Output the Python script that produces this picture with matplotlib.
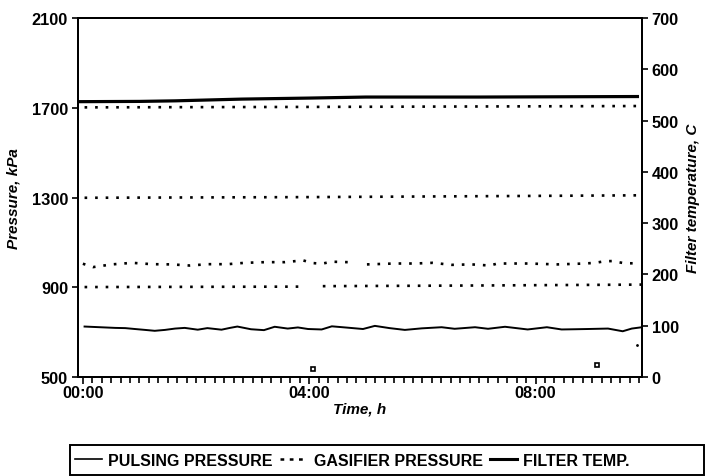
import matplotlib
matplotlib.use("Agg")
import matplotlib.pyplot as plt
import numpy as np
from matplotlib.lines import Line2D
from matplotlib.patches import Rectangle

plt.rcParams['font.family'] = ['Liberation Sans', 'DejaVu Sans']

# pulsing pressure, kPa (thin solid)
pulse_t = [0.03, 0.3, 0.57, 0.75, 0.92, 1.1, 1.27, 1.45, 1.63, 1.8, 2.03, 2.2, 2.45, 2.6, 2.73,
           2.97, 3.2, 3.39, 3.62, 3.8, 3.98, 4.22, 4.4, 4.68, 4.95, 5.16, 5.42, 5.69, 5.99,
           6.34, 6.57, 6.93, 7.16, 7.46, 7.86, 8.2, 8.46, 8.7, 8.92, 9.28, 9.54, 9.7, 9.88]
pulse_p = [725, 722, 719, 718, 714, 710, 706, 710, 716, 719, 711, 718, 711, 719, 725,
           713, 709, 724, 716, 721, 714, 712, 726, 720, 714, 728, 718, 710, 717,
           722, 715, 722, 715, 724, 712, 722, 712, 713, 714, 716, 704, 716, 722]

# gasifier pressure, kPa (dotted, gap near 04:45-05:00)
gas_t = [0.0, 0.18, 0.51, 0.87, 1.22, 1.57, 1.89, 2.21, 2.56, 2.86, 3.22, 3.57, 3.89, 4.06,
         4.22, 4.4, 4.68, 4.85, 5.02, 5.51, 5.87, 6.18, 6.52, 6.87, 7.19, 7.33, 7.86, 8.39,
         8.87, 9.05, 9.22, 9.36, 9.57, 9.72]
gas_p = [1005, 990, 1002, 1009, 1003, 1002, 997, 1003, 1003, 1009, 1012, 1012, 1020, 1008,
         1005, 1014, 1012, np.nan, 1002, 1006, 1006, 1009, 1000, 1002, 997, 1006, 1006, 1002,
         1006, 1009, 1016, 1017, 1007, 1007]

# other dotted pressure traces
low_t = [0.03, 2.0, 3.92, 4.08, 4.24, 7.0, 9.88]
low_p = [901, 902, 903, np.nan, 905, 908, 912]
mid_t = [0.03, 4.0, 7.0, 9.88]
mid_p = [1299, 1302, 1306, 1310]
high_t = [0.03, 4.0, 7.0, 9.88]
high_p = [1702, 1704, 1706, 1708]

# filter temperature, C (thick solid)
temp_t = [-0.05, 1.0, 1.63, 2.81, 4.0, 5.0, 7.0, 9.8]
temp_c = [537, 537.5, 538.6, 542, 544, 546, 546, 547]

# stray points
odd_t = [4.06, 9.08]
odd_p = [536, 554]
speck_t = [9.79]
speck_p = [643]

xticks = [0, 4, 8]
xlabels = ['00:00', '04:00', '08:00']
yticks_l = [500, 900, 1300, 1700, 2100]
yticks_r = [0, 100, 200, 300, 400, 500, 600, 700]

fig = plt.figure(figsize=(7.07, 4.77), dpi=100)
ax = fig.add_axes([0.110, 0.2075, 0.798, 0.7525])
ax2 = ax.twinx()

dot = (0, (1, 3))
ax.plot(pulse_t, pulse_p, color='black', lw=1.4)
ax.plot(gas_t, gas_p, color='black', lw=1.9, ls=dot)
ax.plot(low_t, low_p, color='black', lw=1.9, ls=dot)
ax.plot(mid_t, mid_p, color='black', lw=1.9, ls=dot)
ax.plot(high_t, high_p, color='black', lw=1.9, ls=dot)
ax.plot(odd_t, odd_p, ls='none', marker='s', ms=3.5, mfc='white', mec='black', mew=1.2)
ax.plot(speck_t, speck_p, ls='none', marker='.', ms=2, color='black')
ax2.plot(temp_t, temp_c, color='black', lw=2.3)

ax.set_xlim(-0.09, 9.88)
ax.set_ylim(500, 2100)
ax2.set_ylim(0, 700)

ax.set_xticks(xticks)
ax.set_xticklabels(xlabels)
ax.set_xticks(np.arange(0, 9.9, 1 / 6), minor=True)
ax.set_yticks(yticks_l)
ax2.set_yticks(yticks_r)

ax.tick_params(axis='x', which='major', direction='out', length=5, width=1.2, pad=1,
               labelsize=11.8)
ax.tick_params(axis='x', which='minor', direction='out', length=4, width=1.2)
ax.tick_params(axis='y', direction='out', length=4, width=1.2, pad=3, labelsize=11.8)
ax2.tick_params(axis='y', direction='out', length=4, width=1.2, pad=3, labelsize=11.8)
for lab in ax.get_xticklabels() + ax.get_yticklabels() + ax2.get_yticklabels():
    lab.set_fontweight('bold')

for a in (ax, ax2):
    for s in a.spines.values():
        s.set_linewidth(1.4)

ax.set_xlabel('Time, h', fontsize=11, style='italic', fontweight='bold', labelpad=1)
ax.set_ylabel('Pressure, kPa', fontsize=11, style='italic', fontweight='bold', labelpad=8)
ax2.set_ylabel('Filter temperature, C', fontsize=11, style='italic', fontweight='bold',
               labelpad=5)

handles = [Line2D([], [], color='black', lw=1.2),
           Line2D([], [], color='black', lw=1.8, ls=(0, (1.5, 2.2))),
           Line2D([], [], color='black', lw=2.2)]
names = ['PULSING PRESSURE', 'GASIFIER PRESSURE', 'FILTER TEMP.']
fig.legend(handles, names, loc='center left', bbox_to_anchor=(0.106, 0.033), ncol=3,
           frameon=False, handlelength=1.7, handletextpad=0.4,
           columnspacing=0.45, borderaxespad=0, borderpad=0,
           prop={'weight': 'bold', 'size': 11.5})
fig.patches.append(Rectangle((70 / 707, 1 - 476 / 477), 634 / 707, 30 / 477,
                             transform=fig.transFigure, fill=False, edgecolor='black',
                             lw=1.4))

fig.savefig('out.png', dpi=100)
